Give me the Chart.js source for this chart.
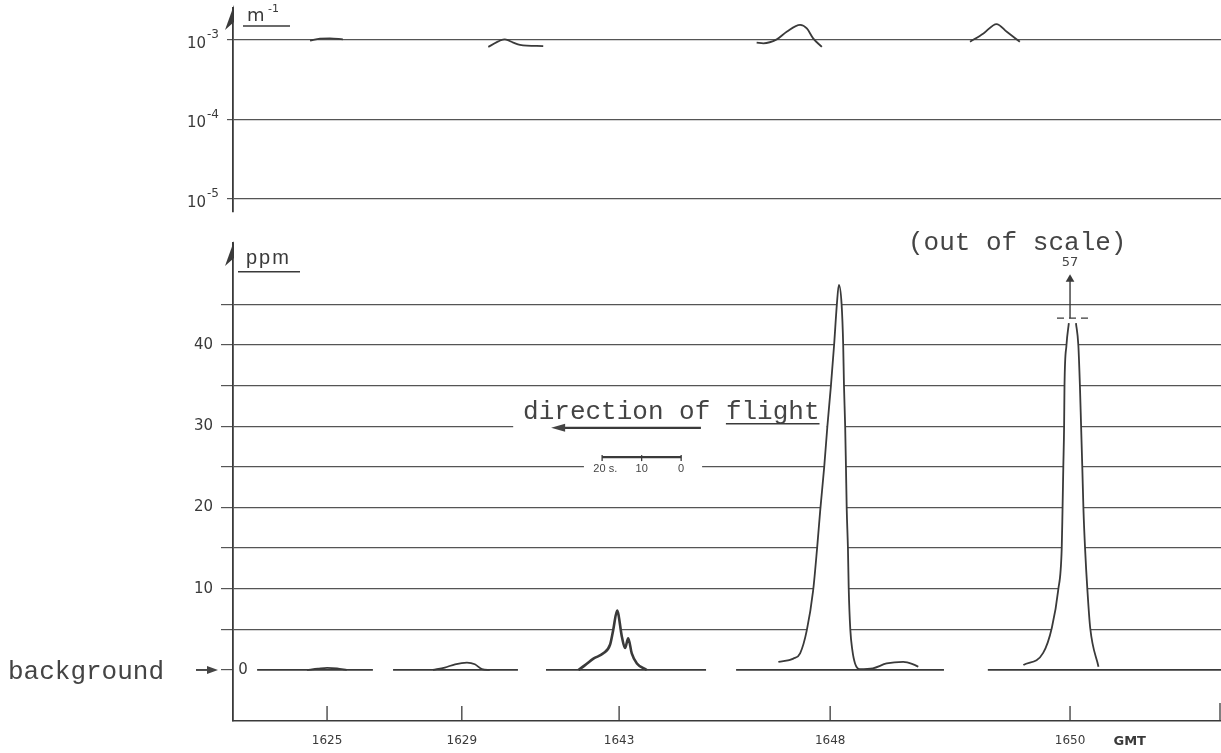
<!DOCTYPE html>
<html>
<head>
<meta charset="utf-8">
<script src="https://cdn.jsdelivr.net/npm/chart.js@4.4.0/dist/chart.umd.min.js"></script>
<style>
  html, body { margin: 0; padding: 0; background: #fff; }
  #wrap { position: relative; width: 1221px; height: 753px; overflow: hidden; }
  #extChart { position: absolute; left: 0; top: 0; }
  #ppmChart { position: absolute; left: 0; top: 220px; }
</style>
</head>
<body>
<div id="wrap">
  <canvas id="extChart" width="1221" height="220"></canvas>
  <canvas id="ppmChart" width="1221" height="533"></canvas>
</div>
<script>
// x = seconds along the strip-chart record (scale bar = 20 s)
const recordSeconds = 250;
const passLabels = ['1625', '1629', '1643', '1648', '1650'];
const passTicks = [23.8, 57.9, 97.7, 151.1, 211.8];

// top panel: extinction coefficient, m^-1 (log scale)
const extDecades = [1e-5, 1e-4, 1e-3];
const extRange = [6.86e-6, 2.53e-3];
const ext1625 = [[19.5, 0.98e-3], [22.0, 1.04e-3], [24.5, 1.05e-3], [27.8, 1.02e-3]];
const ext1629 = [[64.6, 8.2e-4], [68.8, 1.02e-3], [70.9, 9.3e-4], [72.6, 8.7e-4], [78.5, 8.4e-4]];
const ext1648 = [[132.5, 9.3e-4], [134.2, 9.1e-4], [137.6, 1.02e-3], [140.1, 1.27e-3], [143.5, 1.55e-3],
                 [145.2, 1.40e-3], [146.8, 1.05e-3], [149.0, 8.2e-4]];
const ext1650 = [[186.5, 9.5e-4], [189.9, 1.21e-3], [193.2, 1.59e-3], [195.8, 1.27e-3], [199.1, 9.5e-4]];

// bottom panel: concentration, ppm
const ppmRange = [-6.28, 52.55];
const ppmGrid = [0, 5, 10, 15, 20, 25, 30, 35, 40, 45];
const baselineSegments = [[6.1, 35.4], [40.5, 72.1], [79.2, 119.7], [127.3, 179.9], [191.0, 250]];
const ppm1625 = [[18.7, 0], [21.5, 0.15], [23.8, 0.25], [26.3, 0.2], [28.8, 0]];
const ppm1629 = [[50.6, 0], [53.6, 0.3], [56.2, 0.7], [59.2, 0.9], [61.2, 0.7], [63.0, 0.1], [65.0, 0]];
const ppm1643 = [[87.4, 0], [89.1, 0.6], [91.2, 1.4], [93.7, 2.05], [95.4, 3.1], [96.2, 4.9], [97.2, 7.3],
                 [98.4, 4.1], [99.2, 2.7], [100.0, 3.9], [100.9, 2.05], [102.2, 0.8], [104.7, 0]];
const ppm1648 = [[138.0, 1.0], [141.8, 1.4], [143.5, 2.05], [145.2, 4.9], [146.8, 9.8], [147.8, 15],
                 [148.6, 19.7], [149.6, 25], [150.4, 30], [151.3, 35], [152.1, 40], [152.8, 45], [153.3, 47.4],
                 [154.0, 45], [154.4, 40], [154.6, 35], [154.9, 30], [155.1, 25], [155.3, 19.7], [155.6, 15],
                 [155.8, 10], [156.2, 5], [156.7, 2.5], [157.4, 0.8], [158.6, 0.1], [161.9, 0.2],
                 [165.4, 0.8], [169.6, 1.0], [172.1, 0.7], [173.4, 0.4]];
const ppm1650 = [[200.0, 0.6], [205.0, 2.1], [207.2, 5.2], [208.8, 9.8], [209.7, 15], [209.9, 19.7],
                 [210.1, 25], [210.3, 30], [210.4, 35], [210.9, 40], [211.5, 42.7], [213.3, 42.7],
                 [213.9, 40], [214.3, 35], [214.6, 30], [214.9, 25], [215.2, 19.7], [215.6, 15],
                 [216.2, 9.8], [216.9, 5.2], [219.0, 0.4]];
// 1650 peak runs off the scale (true maximum 57 ppm)
const clip1650 = [[208.5, 43.3], [217.4, 43.3]];
const arrow1650 = [[211.8, 43.3], [211.8, 48.1]];
const peak1650True = 57;

const ink = '#3a3a3a';
const gridInk = '#555';
const typeFont = '26px "Liberation Mono", "DejaVu Sans Mono", monospace';
const sans = '"DejaVu Sans", "Liberation Sans", sans-serif';

function pairs(list) {
    return list.map(p => ({ x: p[0], y: p[1] }));
}

function withGaps(segments) {
    const out = [];
    segments.forEach((s, i) => {
        if (i > 0) out.push({ x: (segments[i - 1][1] + s[0]) / 2, y: null });
        out.push({ x: s[0], y: 0 }, { x: s[1], y: 0 });
    });
    return out;
}

function trace(list, width) {
    return {
        data: pairs(list),
        borderColor: ink,
        borderWidth: width || 1.8,
        pointRadius: 0,
        cubicInterpolationMode: 'monotone',
        fill: false
    };
}

// peaks are drawn on white paper: the fill hides the grid behind them
function peak(list, width) {
    return Object.assign(trace(list, width), { fill: 'origin', backgroundColor: '#fff' });
}

function halfArrow(ctx, x, top) {
    ctx.beginPath();
    ctx.moveTo(x, top);
    ctx.lineTo(x - 9, top + 25);
    ctx.lineTo(x, top + 17);
    ctx.closePath();
    ctx.fill();
}

const extDecor = {
    id: 'extDecor',
    afterDraw(chart) {
        const { ctx, chartArea: a, scales: { y } } = chart;
        ctx.save();
        ctx.fillStyle = ink;
        ctx.strokeStyle = ink;
        halfArrow(ctx, a.left + 1, a.top - 3);

        // decade labels 10^n
        y.ticks.forEach(t => {
            const py = y.getPixelForValue(t.value);
            const n = Math.round(Math.log10(t.value));
            ctx.textBaseline = 'middle';
            ctx.font = '15px ' + sans;
            ctx.textAlign = 'right';
            ctx.fillText('10', a.left - 27, py + 4);
            ctx.font = '12px ' + sans;
            ctx.textAlign = 'left';
            ctx.fillText('-' + Math.abs(n), a.left - 26, py - 5);
        });

        // unit
        ctx.textAlign = 'left';
        ctx.textBaseline = 'middle';
        ctx.font = '18px ' + sans;
        ctx.fillText('m', a.left + 14, a.top + 8);
        ctx.font = '11px ' + sans;
        ctx.fillText('-1', a.left + 35, a.top + 1);
        ctx.lineWidth = 1.5;
        ctx.beginPath();
        ctx.moveTo(a.left + 10, a.top + 18);
        ctx.lineTo(a.left + 57, a.top + 18);
        ctx.stroke();
        ctx.restore();
    }
};

new Chart(document.getElementById('extChart'), {
    type: 'line',
    data: {
        datasets: [ext1625, ext1629, ext1648, ext1650].map(d => trace(d))
    },
    options: {
        responsive: false,
        animation: false,
        events: [],
        layout: { autoPadding: false, padding: { top: 8, bottom: 8, left: 0, right: 0 } },
        plugins: { legend: { display: false }, tooltip: { enabled: false } },
        scales: {
            x: { type: 'linear', display: false, min: 0, max: recordSeconds },
            y: {
                type: 'logarithmic',
                min: extRange[0],
                max: extRange[1],
                bounds: 'data',
                afterBuildTicks: s => { s.ticks = extDecades.map(v => ({ value: v })); },
                afterFit: s => { s.width = 233; },
                ticks: { display: false },
                grid: { color: gridInk, lineWidth: 1.2, tickLength: 6 },
                border: { color: ink, width: 1.8 }
            }
        }
    },
    plugins: [extDecor]
});

const ppmDecor = {
    id: 'ppmDecor',
    beforeDatasetsDraw(chart) {
        // blank paper behind the hand-lettered notes
        const { ctx, scales: { x, y } } = chart;
        const box = (x0, x1, y0, y1) => {
            const l = x.getPixelForValue(x0), t = y.getPixelForValue(y0);
            ctx.fillRect(l, t, x.getPixelForValue(x1) - l, y.getPixelForValue(y1) - t);
        };
        ctx.save();
        ctx.fillStyle = '#fff';
        box(70.9, 150.2, 33.3, 29.2);
        box(88.8, 118.7, 25.8, 23.6);
        ctx.restore();
    },
    afterDraw(chart) {
        const { ctx, chartArea: a, scales: { x, y } } = chart;
        const X = v => x.getPixelForValue(v);
        const Y = v => y.getPixelForValue(v);
        ctx.save();
        ctx.fillStyle = ink;
        ctx.strokeStyle = ink;

        halfArrow(ctx, a.left + 1, a.top - 2);

        // pass ticks stand up from the time axis
        ctx.lineWidth = 1.3;
        x.ticks.forEach(t => {
            const px = X(t.value);
            ctx.beginPath();
            ctx.moveTo(px, a.bottom);
            ctx.lineTo(px, a.bottom - 15);
            ctx.stroke();
        });
        ctx.beginPath();
        ctx.moveTo(a.right - 1, a.bottom);
        ctx.lineTo(a.right - 1, a.bottom - 18);
        ctx.stroke();
        ctx.font = 'bold 13px ' + sans;
        ctx.textAlign = 'left';
        ctx.textBaseline = 'middle';
        ctx.fillText('GMT', X(222.8), a.bottom + 21);

        // unit and zero label
        ctx.font = '20px "Liberation Sans", sans-serif';
        ctx.letterSpacing = '2px';
        ctx.fillText('ppm', a.left + 13, Y(50.7));
        ctx.letterSpacing = '0px';
        ctx.lineWidth = 1.5;
        ctx.beginPath();
        ctx.moveTo(a.left + 5, Y(49.0));
        ctx.lineTo(a.left + 67, Y(49.0));
        ctx.stroke();
        ctx.font = '15px ' + sans;
        ctx.textAlign = 'center';
        ctx.fillText('0', a.left + 10, Y(0));

        // "background" pointer
        ctx.fillStyle = '#444';
        ctx.font = typeFont;
        ctx.textAlign = 'left';
        ctx.textBaseline = 'alphabetic';
        ctx.fillText('background', 8, Y(-1.1));
        const y0 = Y(0);
        ctx.lineWidth = 1.8;
        ctx.beginPath();
        ctx.moveTo(196, y0);
        ctx.lineTo(210, y0);
        ctx.stroke();
        ctx.beginPath();
        ctx.moveTo(218, y0);
        ctx.lineTo(207, y0 - 4);
        ctx.lineTo(207, y0 + 4);
        ctx.closePath();
        ctx.fill();

        // direction of flight
        const tx = X(73.4);
        ctx.fillText('direction of flight', tx, Y(30.9));
        const ya = Y(29.8);
        ctx.lineWidth = 2.4;
        ctx.beginPath();
        ctx.moveTo(X(82.5), ya);
        ctx.lineTo(X(118.4), ya);
        ctx.stroke();
        ctx.beginPath();
        ctx.moveTo(X(80.5), ya);
        ctx.lineTo(X(80.5) + 14, ya - 4);
        ctx.lineTo(X(80.5) + 14, ya + 4);
        ctx.closePath();
        ctx.fill();
        const ux = tx + ctx.measureText('direction of ').width;
        ctx.lineWidth = 1.4;
        ctx.beginPath();
        ctx.moveTo(ux, Y(30.3));
        ctx.lineTo(ux + ctx.measureText('flight').width, Y(30.3));
        ctx.stroke();

        // 20 s scale bar
        const yb = Y(26.2);
        ctx.lineWidth = 2.2;
        ctx.beginPath();
        ctx.moveTo(X(93.4), yb);
        ctx.lineTo(X(113.4), yb);
        ctx.stroke();
        ctx.lineWidth = 1.3;
        [93.4, 103.4, 113.4].forEach(s => {
            ctx.beginPath();
            ctx.moveTo(X(s), yb - 2);
            ctx.lineTo(X(s), yb + 4);
            ctx.stroke();
        });
        ctx.font = '11px "Liberation Sans", sans-serif';
        ctx.textAlign = 'center';
        ctx.textBaseline = 'middle';
        ctx.fillText('20 s.', X(94.2), Y(24.7));
        ctx.fillText('10', X(103.4), Y(24.7));
        ctx.fillText('0', X(113.4), Y(24.7));

        // out of scale note
        ctx.font = typeFont;
        ctx.textAlign = 'left';
        ctx.textBaseline = 'alphabetic';
        ctx.fillText('(out of scale)', X(170.8), Y(51.7));
        ctx.font = '13px ' + sans;
        ctx.textAlign = 'center';
        ctx.textBaseline = 'middle';
        ctx.fillText(String(peak1650True), X(arrow1650[1][0]), Y(50.1));
        ctx.restore();
    }
};

// the 1650 trace is open at the top: white fill for the whole peak, two pen strokes for its sides
const top1650 = ppm1650.findIndex((p, i) => i > 0 && ppm1650[i + 1] && p[1] === ppm1650[i + 1][1]);

new Chart(document.getElementById('ppmChart'), {
    type: 'line',
    data: {
        datasets: [
            { data: withGaps(baselineSegments), borderColor: ink, borderWidth: 1.8, pointRadius: 0, fill: false },
            trace(ppm1625),
            trace(ppm1629),
            peak(ppm1643, 2.6),
            peak(ppm1648, 1.8),
            trace(ppm1650.slice(0, top1650 + 1)),
            trace(ppm1650.slice(top1650 + 1)),
            Object.assign(peak(ppm1650), { borderWidth: 0, borderColor: 'rgba(0,0,0,0)' }),
            { data: pairs(clip1650), borderColor: ink, borderWidth: 1.4, borderDash: [7, 5], pointRadius: 0, fill: false },
            {
                data: pairs(arrow1650), borderColor: ink, borderWidth: 1.4, fill: false,
                pointStyle: 'triangle', pointRadius: [0, 5], pointBackgroundColor: ink, pointBorderWidth: 0
            }
        ]
    },
    options: {
        responsive: false,
        animation: false,
        events: [],
        layout: { autoPadding: false, padding: { top: 23, bottom: 0, left: 0, right: 0 } },
        plugins: { legend: { display: false }, tooltip: { enabled: false } },
        scales: {
            x: {
                type: 'linear',
                min: 0,
                max: recordSeconds,
                bounds: 'data',
                afterBuildTicks: s => { s.ticks = passTicks.map(v => ({ value: v })); },
                afterFit: s => { s.height = 32; s.paddingLeft = 0; s.paddingRight = 0; },
                ticks: {
                    autoSkip: false,
                    maxRotation: 0,
                    padding: 13,
                    color: ink,
                    font: { family: 'DejaVu Sans', size: 12 },
                    callback: (v, i) => passLabels[i]
                },
                grid: { drawOnChartArea: false, drawTicks: false },
                border: { color: ink, width: 1.6 }
            },
            y: {
                type: 'linear',
                min: ppmRange[0],
                max: ppmRange[1],
                bounds: 'data',
                afterBuildTicks: s => { s.ticks = ppmGrid.map(v => ({ value: v })); },
                afterFit: s => { s.width = 233; s.paddingTop = 0; s.paddingBottom = 0; },
                ticks: {
                    padding: 8,
                    color: ink,
                    font: { family: 'DejaVu Sans', size: 15 },
                    callback: v => (v > 0 && v % 10 === 0) ? String(v) : ''
                },
                grid: {
                    color: c => c.tick && c.tick.value === 0 ? 'rgba(0,0,0,0)' : gridInk,
                    tickColor: gridInk,
                    lineWidth: 1.2,
                    tickLength: 12
                },
                border: { color: ink, width: 1.8 }
            }
        }
    },
    plugins: [ppmDecor]
});
</script>
</body>
</html>
